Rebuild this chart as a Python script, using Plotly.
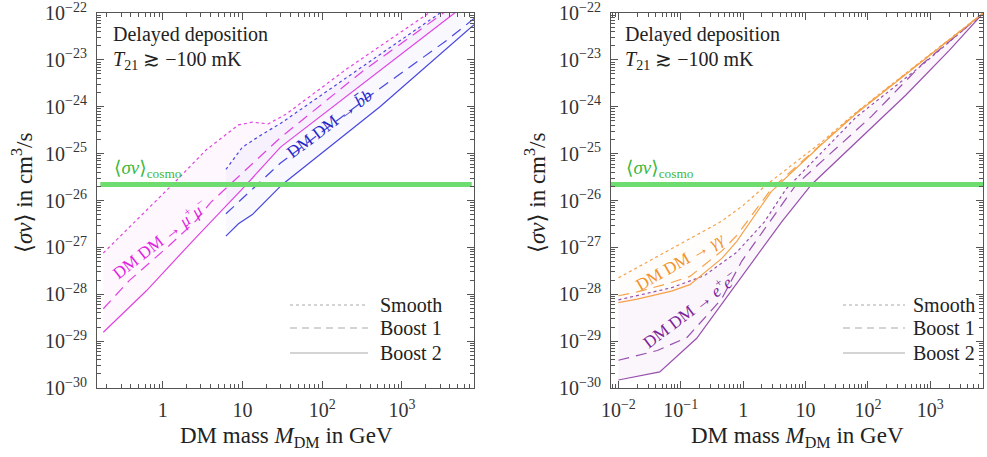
import math
import plotly.graph_objects as go

# ---------------- data (DM mass in GeV, <sigma v> in cm^3/s) ----------------
# Left panel: DM DM -> mu+ mu-
mumu_smooth_M  = [0.18, 0.5, 1.33, 3.5, 8.9, 13.3, 21, 35, 200, 2000, 2800]
mumu_smooth_sv = [7.6e-28, 4.2e-27, 2.2e-26, 1.2e-25, 4.1e-25, 4.7e-25, 4.3e-25, 6.9e-25, 6.3e-24, 9.1e-23, 1.35e-22]
mumu_boost1_M  = [0.18, 0.38, 1.19, 2.57, 4.0, 8.9, 30, 316, 3630, 5000]
mumu_boost1_sv = [4.9e-29, 1.95e-28, 1.07e-27, 3.6e-27, 9.1e-27, 3.2e-26, 2.2e-25, 5.6e-24, 1.12e-22, 1.66e-22]
mumu_boost2_M  = [0.18, 0.62, 2.57, 11.5, 30, 316, 4570, 6300]
mumu_boost2_sv = [1.55e-29, 1.17e-28, 1.58e-27, 2.3e-26, 1.38e-25, 3.0e-24, 1.0e-22, 1.6e-22]

# Left panel: DM DM -> b bbar
bb_smooth_M  = [6.2, 10, 17.8, 30, 316, 3000, 4000]
bb_smooth_sv = [4.6e-26, 1.38e-25, 2.6e-25, 4.4e-25, 7.1e-24, 1.0e-22, 1.4e-22]
bb_boost1_M  = [6.2, 10, 15.8, 30, 490, 3630, 8000]
bb_boost1_sv = [5.2e-27, 1.1e-26, 2.2e-26, 6.3e-26, 2.24e-24, 2.6e-23, 7.6e-23]
bb_boost2_M  = [6.2, 8.9, 13.3, 31.6, 530, 8000]
bb_boost2_sv = [1.74e-27, 3.2e-27, 5.0e-27, 2.2e-26, 1.0e-24, 5.6e-23]

# Right panel: DM DM -> gamma gamma
gg_smooth_M  = [0.01, 0.071, 0.45, 1.0, 2.4, 18.2, 64.6, 724, 7080]
gg_smooth_sv = [2.24e-28, 9.5e-28, 3.6e-27, 7.9e-27, 2.2e-26, 1.78e-25, 7.6e-25, 9.5e-24, 1.0e-22]
gg_boost1_M  = [0.01, 0.02, 0.071, 0.14, 0.46, 0.79, 2.82, 18.2, 64.6, 724, 7080]
gg_boost1_sv = [9.3e-29, 1.12e-28, 1.78e-28, 2.4e-28, 8.5e-28, 1.8e-27, 1.75e-26, 1.66e-25, 7.4e-25, 9.3e-24, 1.0e-22]
gg_boost2_M  = [0.01, 0.02, 0.071, 0.14, 0.46, 0.79, 2.82, 18.2, 64.6, 724, 7080]
gg_boost2_sv = [6.6e-29, 7.9e-29, 1.17e-28, 1.6e-28, 5.9e-28, 1.35e-27, 1.55e-26, 1.58e-25, 7.1e-25, 8.9e-24, 1.0e-22]

# Right panel: DM DM -> e+ e-
ee_smooth_M  = [0.01, 0.071, 0.24, 0.79, 2.19, 4.9, 64.6, 724, 7080]
ee_smooth_sv = [7.6e-29, 1.38e-28, 2.5e-28, 7.9e-28, 3.5e-27, 1.78e-26, 6.0e-25, 7.6e-24, 1.0e-22]
ee_boost1_M  = [0.01, 0.042, 0.126, 0.45, 0.95, 7.1, 115, 724, 7080]
ee_boost1_sv = [3.9e-30, 6.3e-30, 1.2e-29, 7.9e-29, 5.1e-28, 2.2e-26, 6.3e-25, 7.9e-24, 1.0e-22]
ee_boost2_M  = [0.01, 0.046, 0.18, 4.2, 12.5, 64.6, 407, 2000, 7080]
ee_boost2_sv = [1.48e-30, 2.2e-30, 1.15e-29, 3.6e-27, 2.2e-26, 1.78e-25, 1.78e-24, 1.58e-23, 1.0e-22]

sv_cosmo = 2.2e-26

left_x_range_M = [0.15, 8000]
right_x_range_M = [0.0076, 7000]
y_range_sv = [1e-30, 1e-22]

left_xtick_vals = [1, 10, 100, 1000]
left_xtick_text = ["1", "10", "10<sup>2</sup>", "10<sup>3</sup>"]
right_xtick_vals = [0.01, 0.1, 1, 10, 100, 1000]
right_xtick_text = ["10<sup>−2</sup>", "10<sup>−1</sup>", "1", "10", "10<sup>2</sup>", "10<sup>3</sup>"]
y_exponents = [-30, -29, -28, -27, -26, -25, -24, -23, -22]

# ---------------- styling ----------------
W, H = 987, 457
FONT = "Liberation Serif, Times New Roman, DejaVu Serif, serif"
MAG, MAG_T = "#e044e0", "#e020e0"
BLUE, BLUE_T = "#4848e0", "#2626c8"
ORA, ORA_T = "#f5a24a", "#f29228"
PUR, PUR_T = "#9850ae", "#7c2298"
GREEN, GREEN_T = "#6edc6e", "#3cb83c"
GRAY = "#aaaaaa"
FRAME = "#555555"

def px_x(p):
    return p / W

def px_y(p):
    return 1 - p / H

fig = go.Figure()

def fill_band(M_top, sv_top, M_bot, sv_bot, color, xa, ya):
    fig.add_trace(go.Scatter(x=list(M_top) + list(M_bot)[::-1],
                             y=list(sv_top) + list(sv_bot)[::-1],
                             fill="toself", fillcolor=color, mode="lines",
                             line=dict(width=0), xaxis=xa, yaxis=ya,
                             showlegend=False, hoverinfo="skip"))

def curve(M, sv, color, dash, xa, ya):
    fig.add_trace(go.Scatter(x=M, y=sv, mode="lines",
                             line=dict(color=color, width=1.2, dash=dash),
                             xaxis=xa, yaxis=ya, showlegend=False, hoverinfo="skip"))

DOT = "dot"
DASH = "11px,7px"

# left panel
fill_band(mumu_smooth_M, mumu_smooth_sv, mumu_boost2_M, mumu_boost2_sv, "rgba(230,60,230,0.045)", "x", "y")
fill_band(bb_smooth_M, bb_smooth_sv, bb_boost2_M, bb_boost2_sv, "rgba(70,70,230,0.035)", "x", "y")
for M, sv, d in [(mumu_smooth_M, mumu_smooth_sv, DOT), (mumu_boost1_M, mumu_boost1_sv, DASH),
                 (mumu_boost2_M, mumu_boost2_sv, "solid")]:
    curve(M, sv, MAG, d, "x", "y")
for M, sv, d in [(bb_smooth_M, bb_smooth_sv, DOT), (bb_boost1_M, bb_boost1_sv, DASH),
                 (bb_boost2_M, bb_boost2_sv, "solid")]:
    curve(M, sv, BLUE, d, "x", "y")

# right panel
fill_band(ee_smooth_M, ee_smooth_sv, ee_boost2_M, ee_boost2_sv, "rgba(160,70,180,0.05)", "x2", "y2")
fill_band(gg_smooth_M, gg_smooth_sv, gg_boost2_M, gg_boost2_sv, "rgba(245,160,70,0.025)", "x2", "y2")
for M, sv, d in [(ee_smooth_M, ee_smooth_sv, DOT), (ee_boost1_M, ee_boost1_sv, DASH),
                 (ee_boost2_M, ee_boost2_sv, "solid")]:
    curve(M, sv, PUR, d, "x2", "y2")
for M, sv, d in [(gg_smooth_M, gg_smooth_sv, DOT), (gg_boost1_M, gg_boost1_sv, DASH),
                 (gg_boost2_M, gg_boost2_sv, "solid")]:
    curve(M, sv, ORA, d, "x2", "y2")

# cosmological cross section
fig.add_trace(go.Scatter(x=[0.165, 7500], y=[sv_cosmo, sv_cosmo], mode="lines",
                         line=dict(color=GREEN, width=5), xaxis="x", yaxis="y",
                         showlegend=False, hoverinfo="skip"))
fig.add_trace(go.Scatter(x=right_x_range_M, y=[sv_cosmo, sv_cosmo], mode="lines",
                         line=dict(color=GREEN, width=5), xaxis="x2", yaxis="y2",
                         showlegend=False, hoverinfo="skip"))

def minor_vals(lo, hi):
    vals = []
    for e in range(lo, hi + 1):
        for m in range(2, 10):
            vals.append(m * 10.0 ** e)
    return vals

axis_common = dict(type="log", showline=True, linecolor=FRAME, linewidth=1, mirror="allticks",
                   ticks="inside", ticklen=7, tickcolor=FRAME, tickwidth=1, showgrid=False,
                   zeroline=False, automargin=False, ticklabeloverflow="allow",
                   tickfont=dict(family=FONT, size=20, color="#333333"))

y_tickvals = [10.0 ** e for e in y_exponents]
y_ticktext = ["10<sup>−%d</sup>" % (-e) for e in y_exponents]
y_dom = [px_y(388), px_y(13)]

fig.update_layout(
    width=W, height=H, margin=dict(l=0, r=0, t=0, b=0),
    paper_bgcolor="white", plot_bgcolor="white", showlegend=False,
    font=dict(family=FONT),
    xaxis=dict(axis_common, domain=[px_x(97), px_x(474)], anchor="y",
               range=[math.log10(v) for v in left_x_range_M],
               tickmode="array", tickvals=left_xtick_vals, ticktext=left_xtick_text,
               ticklabelstandoff=4,
               minor=dict(ticks="inside", ticklen=4, tickcolor=FRAME, tickvals=minor_vals(-1, 3))),
    yaxis=dict(axis_common, domain=y_dom, anchor="x",
               range=[math.log10(v) for v in y_range_sv],
               tickmode="array", tickvals=y_tickvals, ticktext=y_ticktext,
               ticklabelstandoff=5,
               minor=dict(ticks="inside", ticklen=4, tickcolor=FRAME, tickvals=minor_vals(-30, -23))),
    xaxis2=dict(axis_common, domain=[px_x(611), px_x(983)], anchor="y2",
                range=[math.log10(v) for v in right_x_range_M],
                tickmode="array", tickvals=right_xtick_vals, ticktext=right_xtick_text,
                ticklabelstandoff=4,
                minor=dict(ticks="inside", ticklen=4, tickcolor=FRAME, tickvals=minor_vals(-3, 3))),
    yaxis2=dict(axis_common, domain=y_dom, anchor="x2",
                range=[math.log10(v) for v in y_range_sv],
                tickmode="array", tickvals=y_tickvals, ticktext=y_ticktext,
                ticklabelstandoff=5,
                minor=dict(ticks="inside", ticklen=4, tickcolor=FRAME, tickvals=minor_vals(-30, -23))),
)

ann = []
def text_paper(x, y, t, size=20, color="#222222", xanchor="left", angle=0):
    ann.append(dict(x=px_x(x), y=px_y(y), xref="paper", yref="paper", text=t, showarrow=False,
                    xanchor=xanchor, yanchor="middle", textangle=angle,
                    font=dict(family=FONT, size=size, color=color)))

def text_data(xa, ya, M, sv, t, color, angle, size=17):
    ann.append(dict(x=math.log10(M), y=math.log10(sv), xref=xa, yref=ya, text=t, showarrow=False,
                    xanchor="center", yanchor="middle", textangle=angle,
                    font=dict(family=FONT, size=size, color=color)))

for x0 in (111, 623):
    text_paper(x0, 35, "Delayed deposition")
    text_paper(x0, 60, "<i>T</i><sub>21</sub> ≳ −100 mK")
    text_paper(x0 + 1, 169, "⟨<i>σv</i>⟩<sub>cosmo</sub>", size=19, color=GREEN_T)

# axis titles
text_paper(286, 437, "DM mass <i>M</i><sub>DM</sub> in GeV", size=23, xanchor="center")
text_paper(797, 437, "DM mass <i>M</i><sub>DM</sub> in GeV", size=23, xanchor="center")
text_paper(22, 193, "⟨<i>σv</i>⟩ in cm<sup>3</sup>/s", size=23, xanchor="center", angle=-90)
text_paper(535, 193, "⟨<i>σv</i>⟩ in cm<sup>3</sup>/s", size=23, xanchor="center", angle=-90)

# curve labels
text_data("x", "y", 0.9, 1.5e-27, "DM DM → <i>μ</i><sup>+</sup><i>μ</i><sup>−</sup>", MAG_T, -38)
text_data("x", "y", 126, 4.3e-25, "DM DM → <i>b\u0304b</i>", BLUE_T, -37)
text_data("x2", "y2", 0.1, 4.9e-28, "DM DM → <i>γγ</i>", ORA_T, -30)
text_data("x2", "y2", 0.14, 4.8e-29, "DM DM → <i>e</i><sup>+</sup><i>e</i><sup>−</sup>", PUR_T, -37)

# legends (style key)
shapes = []
for (lx0, lx1, tx) in [(290, 368, 378), (843, 905, 911)]:
    for yy, dash, lab in [(305, "dot", "Smooth"), (328, "7px,5px", "Boost 1"), (353, "solid", "Boost 2")]:
        shapes.append(dict(type="line", xref="paper", yref="paper",
                           x0=px_x(lx0), x1=px_x(lx1), y0=px_y(yy), y1=px_y(yy),
                           line=dict(color=GRAY, width=1.2, dash=dash)))
        text_paper(tx, yy, lab, size=20)

fig.update_layout(annotations=ann, shapes=shapes)
fig.write_html("out.html", config={"displayModeBar": False},
               post_script="document.body.style.margin='0px';")
